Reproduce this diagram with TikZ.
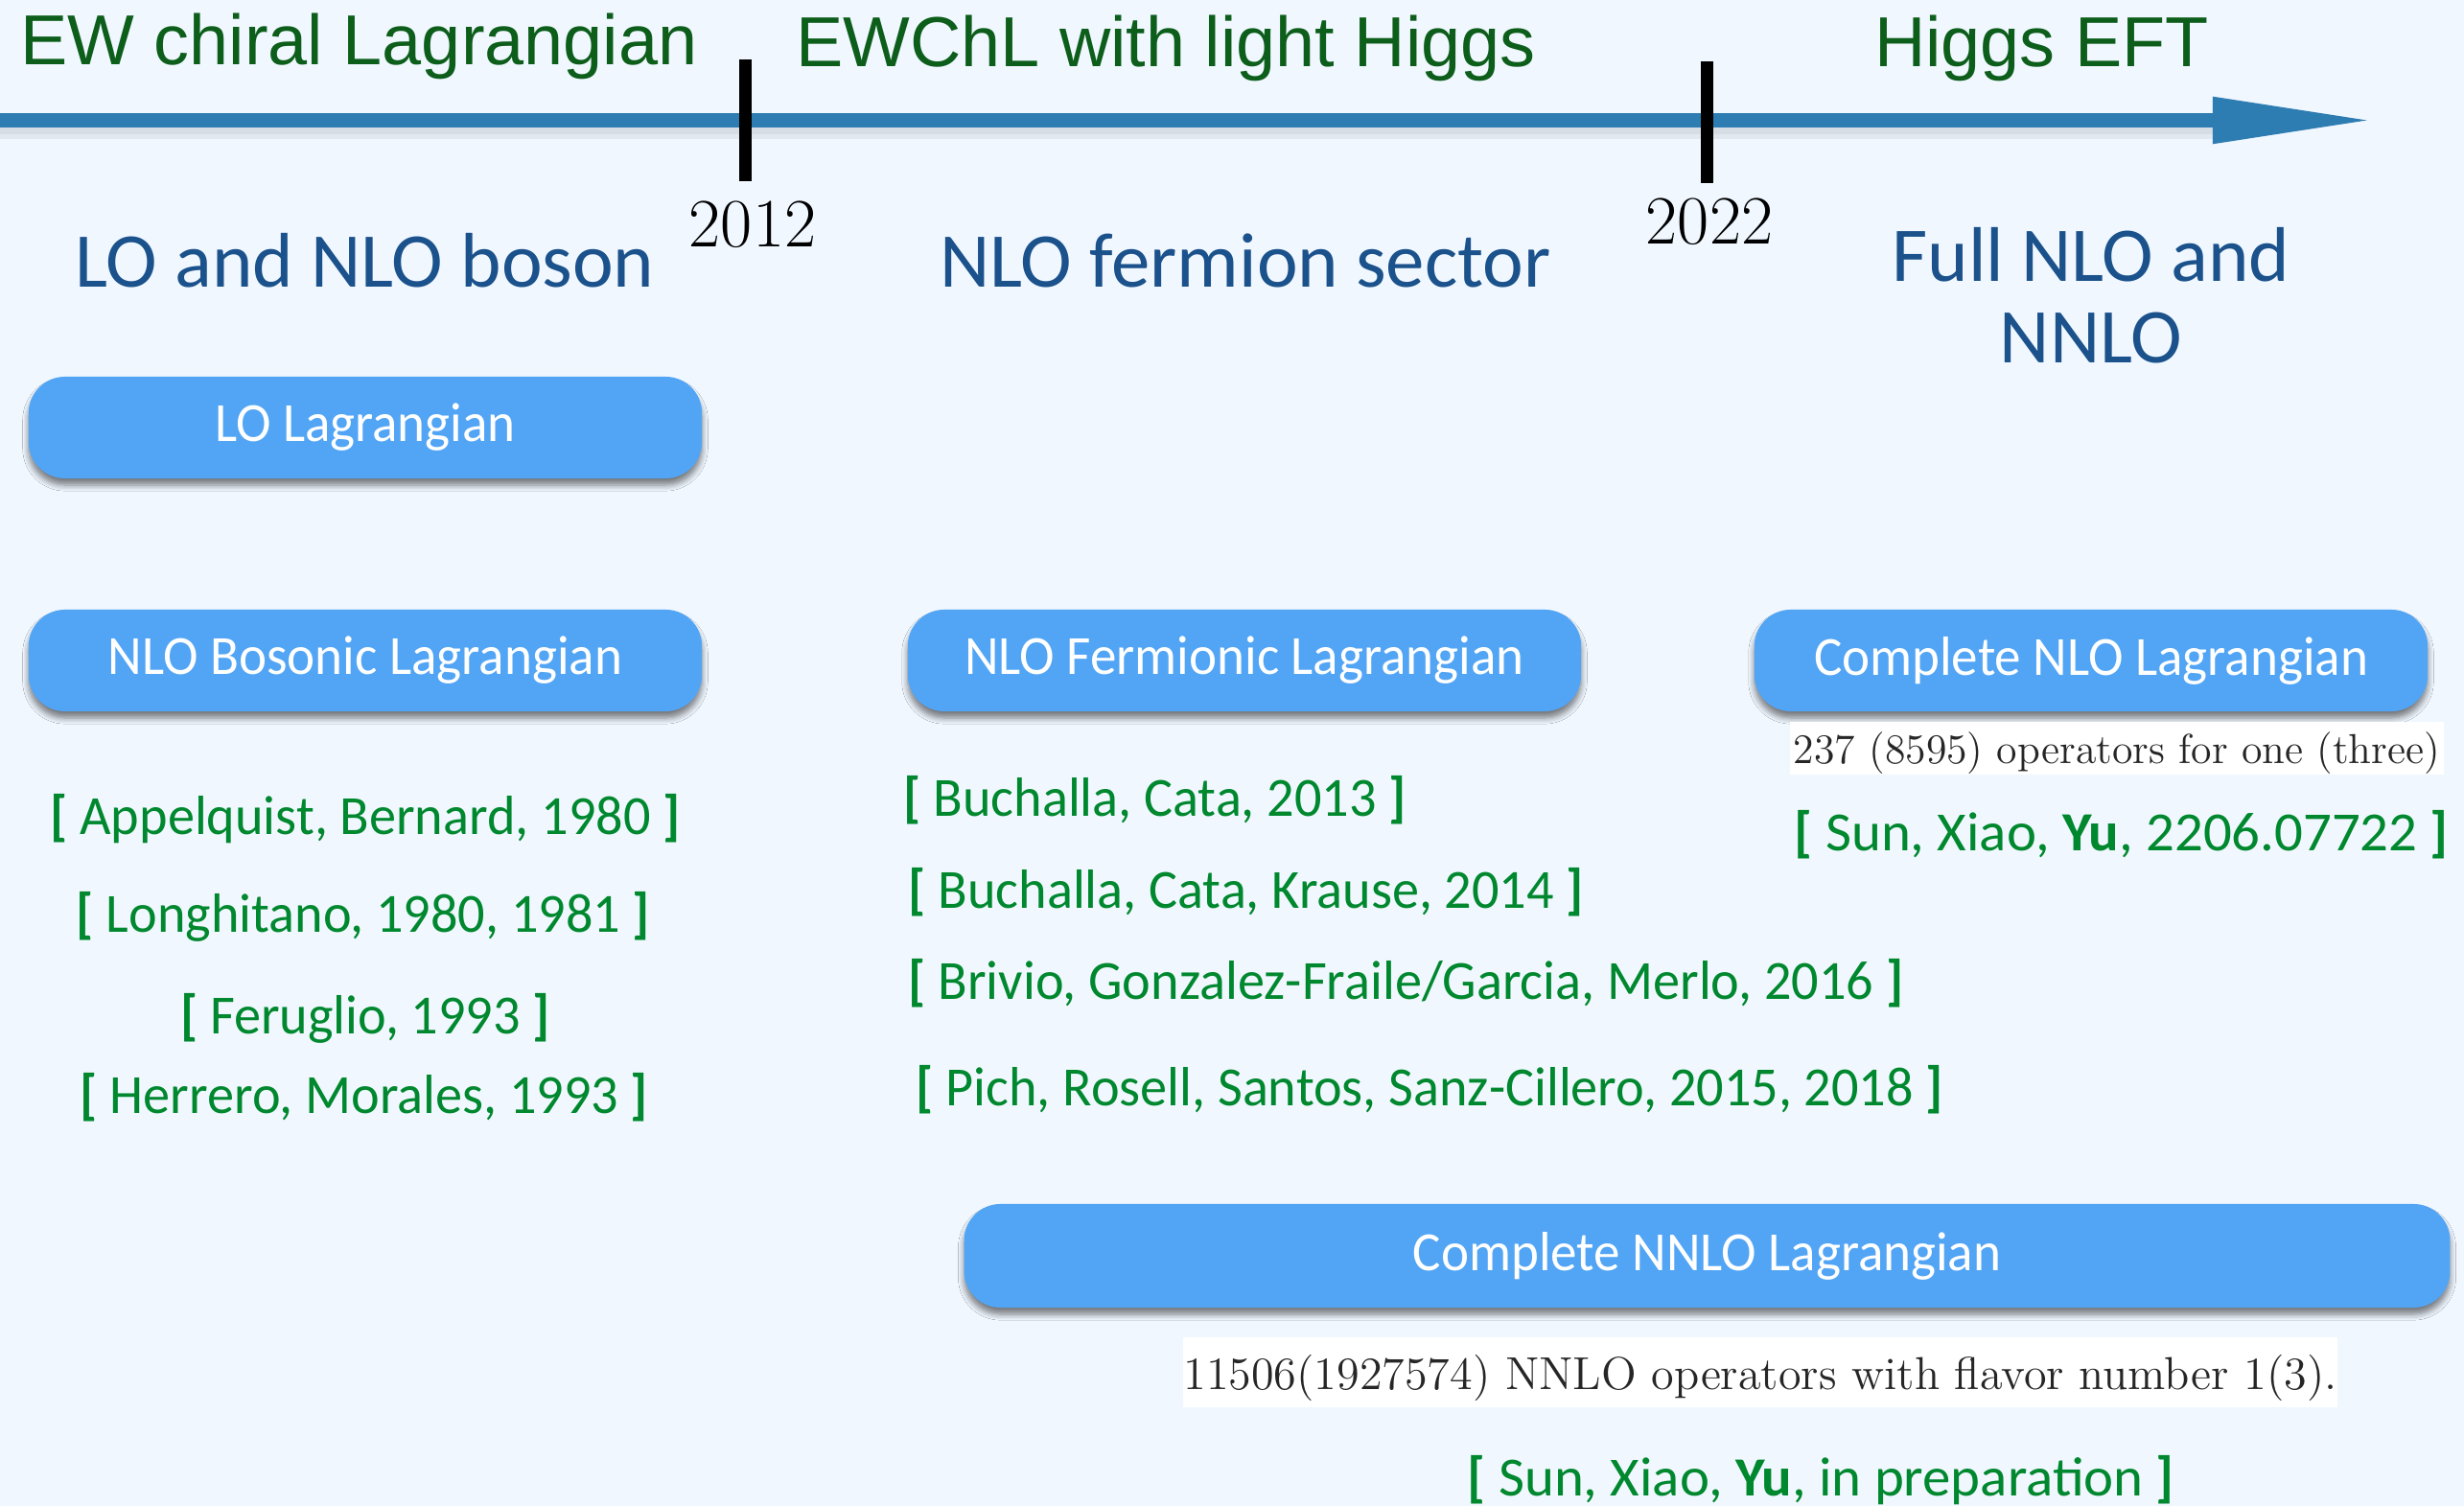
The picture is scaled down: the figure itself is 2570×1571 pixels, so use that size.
\documentclass[tikz,border=0pt]{standalone}
\usepackage{fontspec}
\newfontfamily\gill{Carlito}
\newfontfamily\gillbox{Carlito}[FakeStretch=0.955]
\newfontfamily\gillref{Carlito}[FakeStretch=0.975]
\newfontfamily\gillwide{Carlito}[FakeStretch=1.02]
\newfontfamily\arialf{Liberation Sans}
\usetikzlibrary{shadows.blur,arrows.meta}
\definecolor{bgc}{RGB}{240,247,255}
\definecolor{headgreen}{RGB}{12,94,26}
\definecolor{refgreen}{RGB}{0,136,46}
\definecolor{secblue}{RGB}{27,82,140}
\definecolor{boxblue}{RGB}{82,165,245}
\definecolor{axisblue}{RGB}{46,125,178}
\tikzset{
  head/.style={text=headgreen, inner sep=0pt, font=\arialf\fontsize{21}{24}\selectfont},
  year/.style={text=black, inner sep=0pt, font=\fontsize{20.5}{23}\selectfont},
  sector/.style={text=secblue, inner sep=0pt, align=center, font=\gill\fontsize{23}{25}\selectfont},
  lagbox/.style={fill=boxblue, rounded corners=0.38cm, minimum height=1.06cm, inner sep=0pt,
    text=white, font=\gillbox\fontsize{16.4}{18}\selectfont,
    blur shadow={shadow xshift=0cm, shadow yshift=-0.07cm, shadow blur steps=6, shadow opacity=50}},
  ref/.style={text=refgreen, inner sep=0pt, font=\gillref\fontsize{16.4}{18}\selectfont},
  refwide/.style={ref, font=\gillwide\fontsize{16.4}{18}\selectfont},
  note/.style={fill=white, inner sep=0pt, text depth=0pt, text=black!85, font=\fontsize{12.45}{14}\selectfont},
  tick/.style={line width=0.13cm, black},
}
\begin{document}
\begin{tikzpicture}[x=0.01cm,y=-0.01cm]
\fill[bgc] (0,0) rectangle (2570,1571);
\useasboundingbox (0,0) rectangle (2570,1571);

% timeline with its soft shadow
\fill[black, opacity=0.10] (0,131) rectangle (2320,140);
\fill[black, opacity=0.06] (0,140) rectangle (2320,145);
\coordinate (tstart) at (0,125.5);
\coordinate (tend) at (2476,125.5);
\draw[axisblue, line width=0.15cm, -{Triangle[length=1.68cm,width=0.45cm]}] (tstart) -- (tend);

% year ticks
\coordinate (t1a) at (777,62);
\coordinate (t1b) at (777,189);
\coordinate (t2a) at (1780,64);
\coordinate (t2b) at (1780,191);
\draw[tick] (t1a) -- (t1b);
\draw[tick] (t2a) -- (t2b);
\node[year, anchor=base] (y2012) at (785,258) {2012};
\node[year, anchor=base] (y2022) at (1783,255) {2022};

% era headings
\node[head, anchor=base] (era1) at (374.5,68) {EW chiral Lagrangian};
\node[head, anchor=base] (era2) at (1216,70) {EWChL with light Higgs};
\node[head, anchor=base] (era3) at (2129.5,70) {Higgs EFT};

% sector headings
\node[sector, anchor=base] (sec1) at (380.5,300) {LO and NLO boson};
\node[sector, anchor=base] (sec2) at (1299,300) {NLO fermion sector};
\node[sector, anchor=base] (sec3) at (2181,294) {Full NLO and};
\node[sector, anchor=base] (sec3b) at (2181,379) {NNLO};

% Lagrangian boxes
\node[lagbox, minimum width=7.02cm] (lo) at (381,446) {LO Lagrangian};
\node[lagbox, minimum width=7.02cm] (nlob) at (381,689) {NLO Bosonic Lagrangian};
\node[lagbox, minimum width=7.02cm] (nlof) at (1298,689) {NLO Fermionic Lagrangian};
\node[lagbox, minimum width=7.02cm] (nloc) at (2181,689) {Complete NLO Lagrangian};
\node[lagbox, minimum width=15.49cm, minimum height=1.08cm] (nnlo) at (1780.5,1310) {Complete NNLO Lagrangian};

% operator counts
\node[note, minimum width=6.82cm, minimum height=0.55cm] (cnt1) at (2208,780.5) {237 (8595) operators for one (three)};
\node[note, minimum width=12.04cm, minimum height=0.73cm, font=\fontsize{13.7}{15}\selectfont] (cnt2) at (1836,1431.5) {11506(1927574) NNLO operators with flavor number 1(3).};

% references
\node[ref, anchor=base] (r1) at (381,871) {\textbf{[} Appelquist, Bernard, 1980 \textbf{]}};
\node[ref, anchor=base] (r2) at (379,973) {\textbf{[} Longhitano, 1980, 1981 \textbf{]}};
\node[ref, anchor=base] (r3) at (381,1079) {\textbf{[} Feruglio, 1993 \textbf{]}};
\node[ref, anchor=base] (r4) at (380,1161) {\textbf{[} Herrero, Morales, 1993 \textbf{]}};
\node[ref, anchor=base west] (r5) at (942,852) {\textbf{[} Buchalla, Cata, 2013 \textbf{]}};
\node[ref, anchor=base west] (r6) at (947,948) {\textbf{[} Buchalla, Cata, Krause, 2014 \textbf{]}};
\node[ref, anchor=base west] (r7) at (947,1043) {\textbf{[} Brivio, Gonzalez-Fraile/Garcia, Merlo, 2016 \textbf{]}};
\node[ref, anchor=base west] (r8) at (955,1153) {\textbf{[} Pich, Rosell, Santos, Sanz-Cillero, 2015, 2018 \textbf{]}};
\node[refwide, anchor=base west] (r9) at (1871,888) {\textbf{[} Sun, Xiao, \textbf{Yu}, 2206.07722 \textbf{]}};
\node[refwide, anchor=base west] (r10) at (1530,1560) {\textbf{[} Sun, Xiao, \textbf{Yu}, in preparation \textbf{]}};
\end{tikzpicture}
\end{document}
